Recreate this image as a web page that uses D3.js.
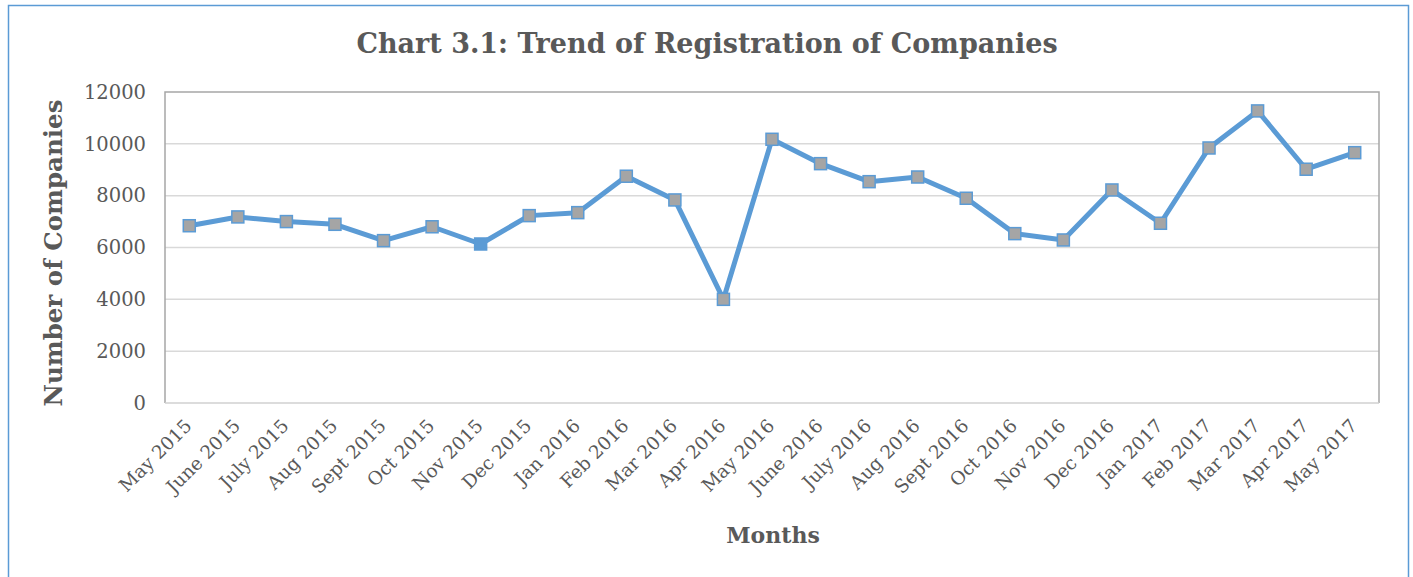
<!DOCTYPE html>
<html>
<head>
<meta charset="utf-8">
<script src="https://cdn.jsdelivr.net/npm/d3@7"></script>
<style>
  body { margin: 0; background: #fff; }
  text { font-family: "DejaVu Serif", "Liberation Serif", serif; fill: #595959; }
</style>
</head>
<body>
<svg id="chart" width="1413" height="577"></svg>
<script>
var months = ['May 2015', 'June 2015', 'July 2015', 'Aug 2015', 'Sept 2015', 'Oct 2015',
  'Nov 2015', 'Dec 2015', 'Jan 2016', 'Feb 2016', 'Mar 2016', 'Apr 2016', 'May 2016',
  'June 2016', 'July 2016', 'Aug 2016', 'Sept 2016', 'Oct 2016', 'Nov 2016', 'Dec 2016',
  'Jan 2017', 'Feb 2017', 'Mar 2017', 'Apr 2017', 'May 2017'];
var companies = [6840, 7180, 7000, 6895, 6265, 6800, 6135, 7230, 7345, 8750, 7835, 4000,
  10175, 9235, 8540, 8720, 7900, 6535, 6290, 8220, 6935, 9840, 11270, 9020, 9660];
var yTicks = [0, 2000, 4000, 6000, 8000, 10000, 12000];

var svg = d3.select('#chart');
var margin = {left: 165, top: 92, right: 1379, bottom: 403};
var blue = '#5b9bd5';

// outer frame
svg.append('rect')
  .attr('x', 8.5).attr('y', 5.5)
  .attr('width', 1400).attr('height', 590)
  .attr('fill', 'none')
  .attr('stroke', blue)
  .attr('stroke-width', 1.5);

var x = d3.scalePoint()
  .domain(months)
  .range([margin.left, margin.right])
  .padding(0.5);

var y = d3.scaleLinear()
  .domain([0, 12000])
  .range([margin.bottom, margin.top]);

// gridlines
svg.append('g')
  .selectAll('line')
  .data(yTicks.filter(function(d) { return d > 0 && d < 12000; }))
  .enter().append('line')
  .attr('x1', margin.left).attr('x2', margin.right)
  .attr('y1', function(d) { return y(d); })
  .attr('y2', function(d) { return y(d); })
  .attr('stroke', '#d9d9d9')
  .attr('stroke-width', 1.5);

// plot frame
svg.append('path')
  .attr('d', 'M' + margin.left + ',' + margin.bottom + 'V' + margin.top + 'H' + margin.right + 'V' + margin.bottom)
  .attr('fill', 'none')
  .attr('stroke', '#a6a6a6')
  .attr('stroke-width', 1.5);
svg.append('line')
  .attr('x1', margin.left).attr('x2', margin.right)
  .attr('y1', margin.bottom).attr('y2', margin.bottom)
  .attr('stroke', '#d0d0d0')
  .attr('stroke-width', 1.5);

// y axis labels
var yAxis = d3.axisLeft(y).tickValues(yTicks).tickFormat(d3.format('d')).tickSize(0).tickPadding(19);
svg.append('g')
  .attr('transform', 'translate(' + margin.left + ',0)')
  .call(yAxis)
  .call(function(g) { g.select('.domain').remove(); })
  .selectAll('text')
  .attr('font-family', '"DejaVu Serif", serif')
  .attr('font-size', 19.5)
  .attr('fill', '#595959');

// x axis labels
var xAxis = d3.axisBottom(x).tickSize(0).tickPadding(0);
svg.append('g')
  .attr('transform', 'translate(0,' + margin.bottom + ')')
  .call(xAxis)
  .call(function(g) { g.select('.domain').remove(); })
  .selectAll('text')
  .attr('font-family', '"DejaVu Serif", serif')
  .attr('font-size', 18.5)
  .attr('fill', '#595959')
  .attr('text-anchor', 'end')
  .attr('dy', 0)
  .attr('transform', 'translate(3,24) rotate(-45)');

// line
var line = d3.line()
  .x(function(d, i) { return x(months[i]); })
  .y(function(d) { return y(d); });

svg.append('path')
  .datum(companies)
  .attr('d', line)
  .attr('fill', 'none')
  .attr('stroke', blue)
  .attr('stroke-width', 5)
  .attr('stroke-linejoin', 'round');

// markers
var size = 12;
svg.append('g')
  .selectAll('rect')
  .data(companies)
  .enter().append('rect')
  .attr('x', function(d, i) { return x(months[i]) - size / 2; })
  .attr('y', function(d) { return y(d) - size / 2; })
  .attr('width', size)
  .attr('height', size)
  .attr('fill', function(d, i) { return months[i] === 'Nov 2015' ? blue : '#a5a5a5'; })
  .attr('stroke', blue)
  .attr('stroke-width', 1.5);

// titles
svg.append('text')
  .attr('x', 707).attr('y', 53)
  .attr('text-anchor', 'middle')
  .attr('font-size', 27)
  .attr('font-weight', 'bold')
  .text('Chart 3.1: Trend of Registration of Companies');

svg.append('text')
  .attr('transform', 'translate(62,253) rotate(-90)')
  .attr('text-anchor', 'middle')
  .attr('font-size', 24.5)
  .attr('font-weight', 'bold')
  .text('Number of Companies');

svg.append('text')
  .attr('x', 773).attr('y', 543)
  .attr('text-anchor', 'middle')
  .attr('font-size', 22)
  .attr('font-weight', 'bold')
  .text('Months');
</script>
</body>
</html>
